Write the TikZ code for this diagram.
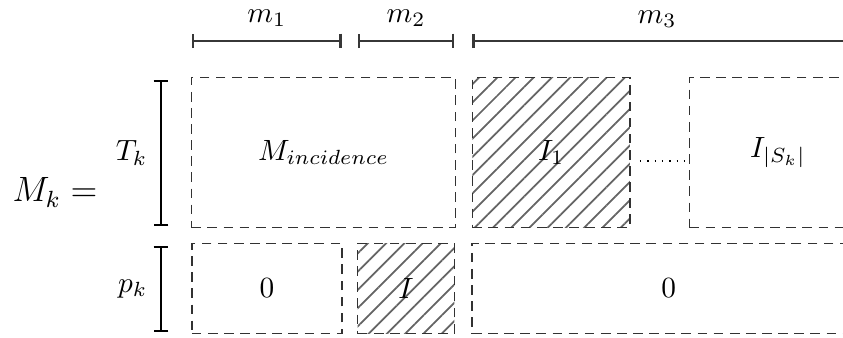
\documentclass[tikz,border=0pt]{standalone}
\usepackage{amsmath}
\usepackage{tikz}
\usetikzlibrary{arrows.meta, positioning, patterns.meta}
\definecolor{BRgrey}{RGB}{55,55,55}
\definecolor{BXgrey}{RGB}{50,50,50}
\definecolor{HTgrey}{RGB}{100,100,100}

\begin{document}
\begin{tikzpicture}[>=Stealth,
    blockbox/.style={draw=BXgrey, line width=0.5pt, dash pattern=on 3.3pt off 2.2pt, inner sep=0pt, outer sep=0pt},
    hatchbox/.style={blockbox, preaction={draw=none, solid, pattern={Lines[angle=45, distance=4.4pt, line width=0.6pt]}, pattern color=HTgrey}},
    colbrace/.style={BRgrey, line width=0.9pt, {Bar[width=5pt]}-{Bar[width=5pt]}},
    rowbrace/.style={black, line width=0.6pt, {Bar[width=5pt]}-{Bar[width=5pt]}}]
    \path[use as bounding box, clip] (0,0) rectangle (10.11,4.05);
    % Upper block row
    \node[blockbox, minimum width=3.17cm, minimum height=1.80cm] (minc) at (3.88,2.22) {$M_{incidence}$};
    \node[hatchbox, minimum width=1.89cm, minimum height=1.80cm] (ione) at (6.61,2.22) {$I_1$};
    \node[blockbox, minimum width=2.12cm, minimum height=1.80cm] (isk) at (9.33,2.22) {$I_{|S_k|}$};
    \draw[dotted, line width=0.5pt] ([xshift=0.12cm, yshift=-0.1cm]ione.east) -- ([yshift=-0.1cm]isk.west);
    % Lower block row
    \node[blockbox, minimum width=1.80cm, minimum height=1.08cm] (zleft) at (3.20,0.59) {$0$};
    \node[hatchbox, minimum width=1.16cm, minimum height=1.08cm] (ident) at (4.87,0.59) {$I$};
    \node[blockbox, minimum width=4.72cm, minimum height=1.08cm] (zright) at (8.02,0.59) {$0$};
    % Column sizes
    \coordinate (ctop) at (0,3.56);
    \coordinate (cend) at (10.40,3.56);
    \draw[colbrace] (zleft.west |- ctop) -- node[midway, above=1pt, black] (mone) {$m_1$} (zleft.east |- ctop);
    \draw[colbrace] (ident.west |- ctop) -- node[midway, above=1pt, black] (mtwo) {$m_2$} (ident.east |- ctop);
    \draw[colbrace] (zright.west |- ctop) -- (cend);
    \node[above=1pt] (mthree) at (7.88,3.56) {$m_3$};
    % Row sizes
    \coordinate (rleft) at (1.93,0);
    \draw[rowbrace] ([yshift=-0.03cm]minc.north -| rleft) -- node[midway, left=1pt] (tk) {$T_k$} ([yshift=0.02cm]minc.south -| rleft);
    \draw[rowbrace] ([yshift=-0.03cm]zleft.north -| rleft) -- node[midway, left=1pt] (pk) {$p_k$} ([yshift=0.02cm]zleft.south -| rleft);
    % Left hand side
    \node[font=\large] (mk) at (0.66,1.74) {$M_k =$};
  \end{tikzpicture}
\end{document}
